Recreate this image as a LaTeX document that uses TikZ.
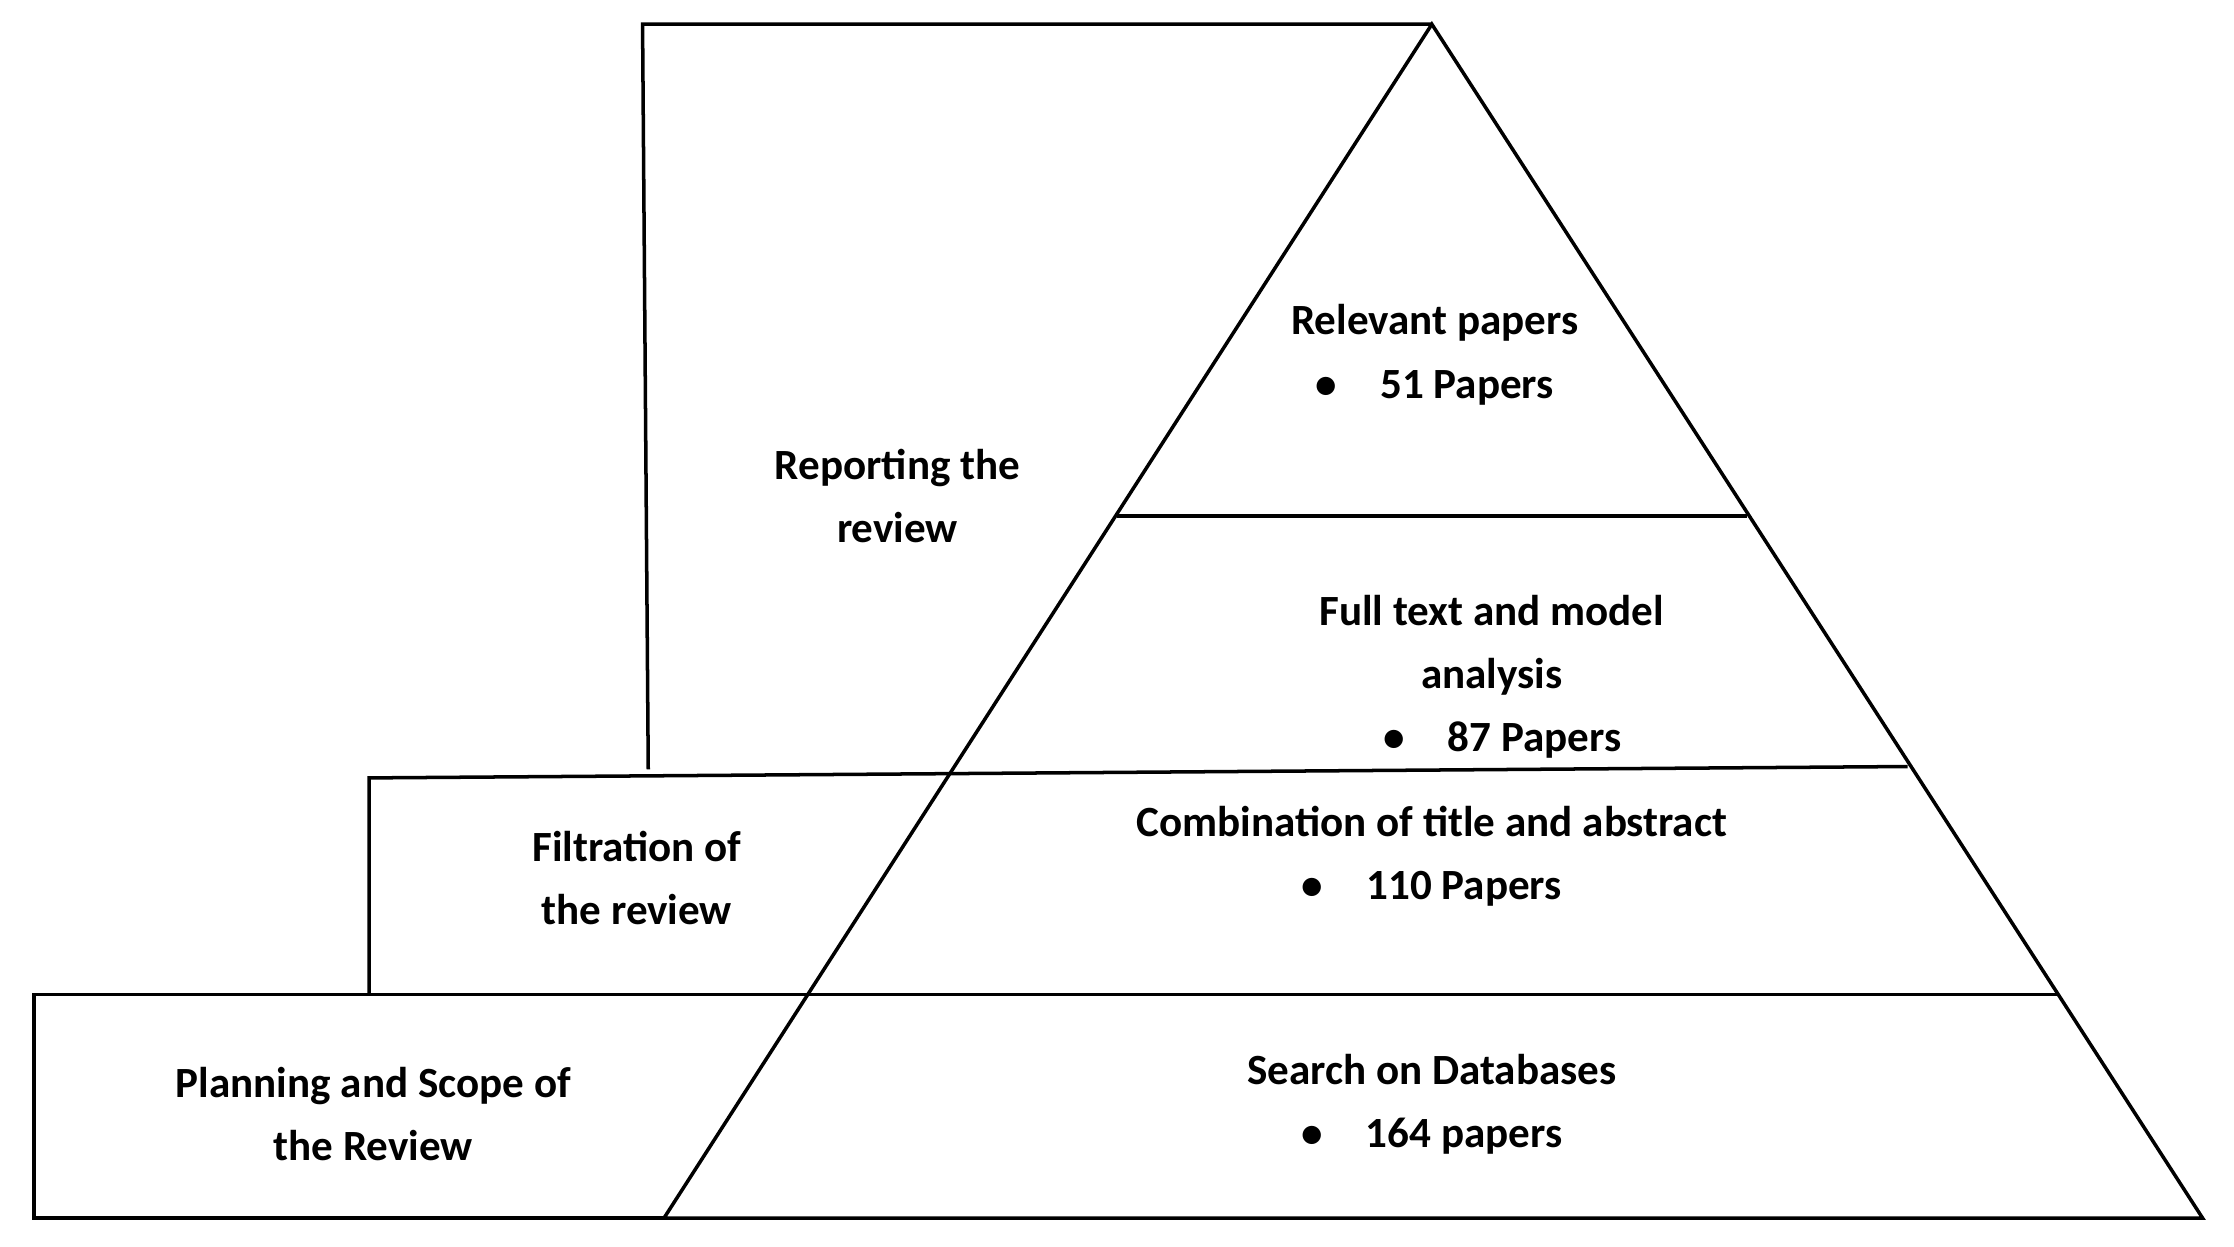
\documentclass[tikz,border=0pt]{standalone}
\usepackage{fontspec}
\setmainfont{Carlito}
\begin{document}
\begin{tikzpicture}[x=0.01cm,y=-0.01cm,line width=0.7pt,
 lbl/.style={font=\fontsize{8.6}{10.6}\selectfont\bfseries,align=center}]
\useasboundingbox (0,0) rectangle (1568,875);
\coordinate (apex) at (1005,17);
\coordinate (bl) at (466,855);
\coordinate (br) at (1546,855);
\draw (apex) -- (bl) -- (br) -- cycle;
\draw (784,362) -- (1226,362);
\draw (666,543) -- (1339,538);
\draw (566,698) -- (1445,698);
\draw (566,698) -- (24,698) -- (24,855) -- (bl);
\draw (259,698) -- (259,546) -- (666,543);
\draw (455,540) -- (451,17) -- (apex);
\node[lbl] (t1) at (1007,249) {Relevant papers\\[2pt]\textbullet\quad 51 Papers};
\node[lbl] (t2) at (1047,475) {Full text and model\\[2pt]analysis\\[2pt]\hspace{0.5em}\textbullet\quad 87 Papers};
\node[lbl] (t3) at (1005,601) {Combination of title and abstract\\[2pt]\textbullet\quad 110 Papers};
\node[lbl] (t4) at (1005,775) {Search on Databases\\[2pt]\textbullet\quad 164 papers};
\node[lbl] (r) at (630,348) {Reporting the\\[2pt]review};
\node[lbl] (f) at (447,616) {Filtration of\\[2pt]the review};
\node[lbl] (p) at (262,782) {Planning and Scope of\\[2pt]the Review};
\end{tikzpicture}
\end{document}
